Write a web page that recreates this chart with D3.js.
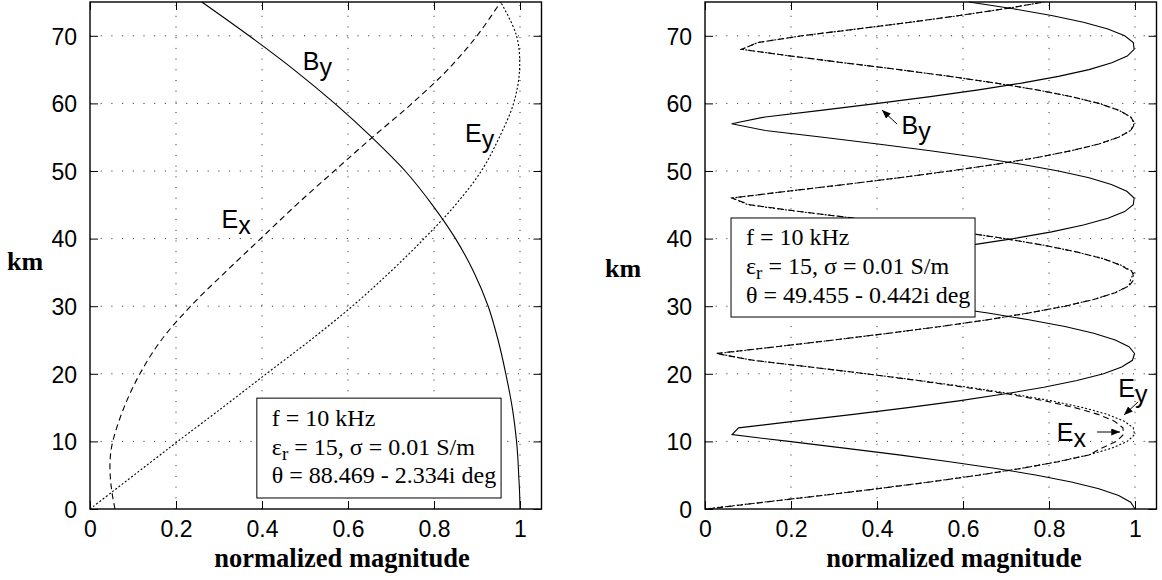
<!DOCTYPE html>
<html>
<head>
<meta charset="utf-8">
<script src="https://cdn.jsdelivr.net/npm/d3@7"></script>
<style>
  body { margin: 0; background: #fff; }
</style>
</head>
<body>
<div id="chart"></div>
<script>
// ticks
const kmTicks = [0, 10, 20, 30, 40, 50, 60, 70];
const magTicks = [0, 0.2, 0.4, 0.6, 0.8, 1];

// left panel (theta = 88.469 - 2.334i deg), read at these heights
const leftKm = [0, 2.5, 5, 7.5, 10, 15, 20, 25, 30, 35, 40, 45, 50, 55, 60, 65, 70, 75];
const leftBy = [1.0, 0.999, 0.997, 0.995, 0.992, 0.982, 0.967, 0.949, 0.926, 0.893, 0.85, 0.796, 0.733, 0.655, 0.569, 0.474, 0.37, 0.26];
const leftEx = [0.058, 0.051, 0.047, 0.047, 0.053, 0.079, 0.116, 0.166, 0.234, 0.314, 0.397, 0.48, 0.568, 0.657, 0.749, 0.832, 0.9, 0.955];
const leftEy = [0, 0.051, 0.102, 0.153, 0.204, 0.308, 0.41, 0.513, 0.61, 0.697, 0.777, 0.85, 0.91, 0.952, 0.985, 0.999, 0.992, 0.955];

// right panel (theta = 49.455 - 0.442i deg), 1 km samples
const rightKm = [0, 1, 2, 3, 4, 5, 6, 7, 8, 9, 10, 11, 12, 13, 14, 15, 16, 17, 18, 19,
  20, 21, 22, 23, 24, 25, 26, 27, 28, 29, 30, 31, 32, 33, 34, 35, 36, 37, 38, 39,
  40, 41, 42, 43, 44, 45, 46, 47, 48, 49, 50, 51, 52, 53, 54, 55, 56, 57, 58, 59,
  60, 61, 62, 63, 64, 65, 66, 67, 68, 69, 70, 71, 72, 73, 74, 75];
const rightBy = [1.0, 0.99, 0.962, 0.916, 0.852, 0.772, 0.677, 0.569, 0.451, 0.324,
  0.195, 0.063, 0.078, 0.21, 0.345, 0.472, 0.59, 0.695, 0.788, 0.865,
  0.927, 0.969, 0.994, 0.999, 0.986, 0.954, 0.904, 0.837, 0.753, 0.658,
  0.548, 0.427, 0.3, 0.17, 0.07, 0.115, 0.245, 0.376, 0.5, 0.614,
  0.717, 0.806, 0.88, 0.937, 0.976, 0.996, 0.998, 0.981, 0.945, 0.893,
  0.822, 0.736, 0.636, 0.524, 0.402, 0.274, 0.14, 0.062, 0.14, 0.274,
  0.402, 0.524, 0.636, 0.736, 0.822, 0.893, 0.946, 0.982, 0.998, 0.996,
  0.976, 0.937, 0.88, 0.806, 0.717, 0.614];
const rightEx = [0.005, 0.137, 0.272, 0.402, 0.524, 0.636, 0.736, 0.822, 0.893, 0.922,
  0.957, 0.973, 0.972, 0.952, 0.914, 0.86, 0.79, 0.705, 0.605, 0.495,
  0.375, 0.245, 0.112, 0.025, 0.165, 0.299, 0.427, 0.548, 0.658, 0.753,
  0.837, 0.904, 0.954, 0.986, 0.998, 0.994, 0.969, 0.927, 0.866, 0.789,
  0.697, 0.592, 0.476, 0.35, 0.22, 0.105, 0.062, 0.19, 0.324, 0.451,
  0.569, 0.677, 0.772, 0.852, 0.916, 0.962, 0.99, 1.0, 0.99, 0.962,
  0.916, 0.852, 0.772, 0.677, 0.569, 0.451, 0.324, 0.2, 0.085, 0.123,
  0.225, 0.352, 0.477, 0.592, 0.697, 0.789];
const rightEy = [0, 0.135, 0.27, 0.4, 0.522, 0.634, 0.734, 0.82, 0.892, 0.946,
  0.982, 0.999, 0.996, 0.975, 0.936, 0.879, 0.806, 0.717, 0.614, 0.5,
  0.376, 0.245, 0.11, 0.03, 0.165, 0.3, 0.428, 0.548, 0.658, 0.753,
  0.837, 0.904, 0.954, 0.986, 0.99, 0.998, 0.97, 0.928, 0.866, 0.79,
  0.698, 0.593, 0.477, 0.35, 0.218, 0.1, 0.063, 0.192, 0.325, 0.452,
  0.57, 0.678, 0.773, 0.852, 0.916, 0.962, 0.99, 0.998, 0.99, 0.962,
  0.916, 0.852, 0.772, 0.677, 0.569, 0.451, 0.324, 0.2, 0.085, 0.123,
  0.225, 0.352, 0.477, 0.592, 0.697, 0.789];

const leftTheta = "θ = 88.469 - 2.334i deg";
const rightTheta = "θ = 49.455 - 0.442i deg";

const width = 1162, height = 580;
const plotW = 451.5, plotTop = 2, plotBottom = 509;

const svg = d3.select("#chart").append("svg")
  .attr("width", width)
  .attr("height", height)
  .style("font-family", "'Liberation Sans', Arial, sans-serif");

svg.append("defs").append("marker")
  .attr("id", "arrow")
  .attr("viewBox", "0 -4 10 8")
  .attr("refX", 10).attr("refY", 0)
  .attr("markerWidth", 9).attr("markerHeight", 7)
  .attr("markerUnits", "userSpaceOnUse")
  .attr("orient", "auto")
  .append("path").attr("d", "M0,-4L10,0L0,4Z").attr("fill", "#000");

const styles = {
  By: { dash: null },
  Ex: { dash: "6,4" },
  Ey: { dash: "2,2" }
};

function drawPanel(cfg) {
  const x = d3.scaleLinear().domain([0, 1.05]).range([cfg.left, cfg.left + plotW]);
  const y = d3.scaleLinear().domain([0, 75]).range([plotBottom, plotTop]);
  const g = svg.append("g").attr("class", "panel");

  // dotted grid
  g.append("g").selectAll("line")
    .data(magTicks.filter(d => d > 0))
    .enter().append("line")
    .attr("x1", d => x(d)).attr("x2", d => x(d))
    .attr("y1", plotBottom).attr("y2", plotTop)
    .attr("stroke", "#222").attr("stroke-width", 1)
    .attr("stroke-dasharray", "1,9.7");
  g.append("g").selectAll("line")
    .data(kmTicks.filter(d => d > 0))
    .enter().append("line")
    .attr("y1", d => y(d)).attr("y2", d => y(d))
    .attr("x1", cfg.left).attr("x2", cfg.left + plotW)
    .attr("stroke", "#222").attr("stroke-width", 1)
    .attr("stroke-dasharray", "1,9.7");

  // curves
  const line = d3.line()
    .x(d => x(d.v))
    .y(d => y(d.km))
    .curve(cfg.curve);

  cfg.series.forEach(s => {
    const pts = cfg.km.map((km, i) => ({ km: km, v: s.values[i] }));
    g.append("path")
      .datum(pts)
      .attr("fill", "none")
      .attr("stroke", "#000")
      .attr("stroke-width", 1.1)
      .attr("stroke-dasharray", styles[s.name].dash)
      .attr("d", line);
  });

  // parameter box
  const bx = x(cfg.box[0]), by = y(cfg.box[3]);
  const bw = x(cfg.box[1]) - bx, bh = y(cfg.box[2]) - by;
  const box = g.append("g").attr("transform", `translate(${bx},${by})`);
  box.append("rect")
    .attr("width", bw).attr("height", bh)
    .attr("fill", "#fff").attr("stroke", "#000").attr("stroke-width", 1);
  const tf = box.append("g")
    .style("font-family", "'Liberation Serif', 'Times New Roman', serif")
    .style("font-size", "24px");
  tf.append("text").attr("x", 15).attr("y", 27.5).text("f = 10 kHz");
  const t2 = tf.append("text").attr("x", 15).attr("y", 56.5);
  t2.append("tspan").text("ε");
  t2.append("tspan").attr("dy", 5).style("font-size", "19px").text("r");
  t2.append("tspan").attr("dy", -5).text(" = 15, σ = 0.01 S/m");
  tf.append("text").attr("x", 15).attr("y", 85).text(cfg.theta);

  // curve labels
  cfg.labels.forEach(l => {
    const t = g.append("text")
      .attr("x", x(l.v)).attr("y", y(l.km))
      .style("font-size", "25px");
    t.append("tspan").text(l.text[0]);
    t.append("tspan").attr("dy", 6).text(l.text[1]);
    if (l.arrow) {
      g.append("line")
        .attr("x1", l.arrow[0]).attr("y1", l.arrow[1])
        .attr("x2", l.arrow[2]).attr("y2", l.arrow[3])
        .attr("stroke", "#000").attr("stroke-width", 1)
        .attr("marker-end", "url(#arrow)");
    }
  });

  // frame and inward ticks
  g.append("rect")
    .attr("x", cfg.left).attr("y", plotTop)
    .attr("width", plotW).attr("height", plotBottom - plotTop)
    .attr("fill", "none").attr("stroke", "#000").attr("stroke-width", 1.4);

  const fmt = d => (d === 0 || d === 1) ? String(d) : d3.format(".1f")(d);
  const axB = g.append("g").attr("transform", `translate(0,${plotBottom})`)
    .call(d3.axisBottom(x).tickValues(magTicks).tickSize(-8).tickPadding(12).tickFormat(fmt));
  const axT = g.append("g").attr("transform", `translate(0,${plotTop})`)
    .call(d3.axisTop(x).tickValues(magTicks).tickSize(-8).tickFormat(""));
  const axL = g.append("g").attr("transform", `translate(${cfg.left},0)`)
    .call(d3.axisLeft(y).tickValues(kmTicks).tickSize(-8).tickPadding(13));
  const axR = g.append("g").attr("transform", `translate(${cfg.left + plotW},0)`)
    .call(d3.axisRight(y).tickValues(kmTicks).tickSize(-8).tickFormat(""));
  [axB, axT, axL, axR].forEach(a => {
    a.select(".domain").remove();
    a.selectAll(".tick line").attr("stroke", "#000").attr("stroke-width", 1);
    a.selectAll("text")
      .attr("fill", "#000")
      .style("font-family", "'Liberation Sans', Arial, sans-serif")
      .style("font-size", "23px");
  });
  axL.selectAll("text").attr("dy", "0.36em");

  // axis titles
  svg.append("text")
    .attr("x", cfg.xTitleX).attr("y", 567)
    .attr("text-anchor", "middle")
    .style("font-family", "'Liberation Serif', 'Times New Roman', serif")
    .style("font-weight", "bold").style("font-size", "26.5px")
    .text("normalized magnitude");
  svg.append("text")
    .attr("x", cfg.kmX).attr("y", cfg.kmY)
    .style("font-family", "'Liberation Serif', 'Times New Roman', serif")
    .style("font-weight", "bold").style("font-size", "26px")
    .text("km");
}

drawPanel({
  left: 90,
  km: leftKm,
  curve: d3.curveCatmullRom.alpha(0.5),
  series: [
    { name: "By", values: leftBy },
    { name: "Ex", values: leftEx },
    { name: "Ey", values: leftEy }
  ],
  box: [0.388, 0.956, 1.63, 16.4],
  theta: leftTheta,
  labels: [
    { text: ["B", "y"], v: 0.495, km: 64.9 },
    { text: ["E", "x"], v: 0.306, km: 41.5 },
    { text: ["E", "y"], v: 0.872, km: 54.3 }
  ],
  xTitleX: 342,
  kmX: 7,
  kmY: 270
});

drawPanel({
  left: 705,
  km: rightKm,
  curve: d3.curveLinear,
  series: [
    { name: "By", values: rightBy },
    { name: "Ex", values: rightEx },
    { name: "Ey", values: rightEy }
  ],
  box: [0.0605, 0.628, 28.4, 43.05],
  theta: rightTheta,
  labels: [
    { text: ["B", "y"], v: 0.457, km: 55.5, arrow: [897, 124, 882, 110] },
    { text: ["E", "y"], v: 0.961, km: 16.5, arrow: [1138, 402, 1124, 415] },
    { text: ["E", "x"], v: 0.818, km: 10.06, arrow: [1097, 432, 1120, 432] }
  ],
  xTitleX: 954,
  kmX: 605,
  kmY: 277
});
</script>
</body>
</html>
